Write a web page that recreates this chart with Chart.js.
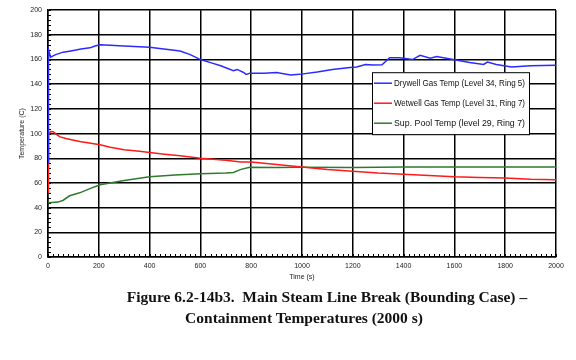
<!DOCTYPE html>
<html>
<head>
<meta charset="utf-8">
<script src="https://cdn.jsdelivr.net/npm/chart.js@4.4.0/dist/chart.umd.min.js"></script>
<style>
  body { margin: 0; background: #fff; width: 576px; height: 360px; position: relative; overflow: hidden; }
  #chart { position: absolute; left: 0; top: 0; }
  .cap { position: absolute; width: 500px; text-align: center; font-family: "Liberation Serif", "Times New Roman", serif; font-weight: bold; font-size: 15.5px; color: #111; white-space: nowrap; }
</style>
</head>
<body>
<canvas id="chart" width="576" height="290"></canvas>
<div class="cap" id="cap1" style="left:77px; top:288px;">Figure 6.2-14b3.&nbsp; Main Steam Line Break (Bounding Case) –</div>
<div class="cap" id="cap2" style="left:54px; top:309px;">Containment Temperatures (2000 s)</div>
<script>
// series labels
const seriesNames = [
  "Drywell Gas Temp (Level 34, Ring 5)",
  "Wetwell Gas Temp (Level 31, Ring 7)",
  "Sup. Pool Temp (level 29, Ring 7)"
];

// drywell gas (blue)
const drywellTime = [0, 1, 3, 10, 30, 60, 90, 130, 165, 185, 205, 245, 300, 400, 480, 520, 560, 600, 640, 680, 730, 745, 770, 780, 795, 850, 900, 955, 990, 1060, 1120, 1190, 1215, 1250, 1280, 1315, 1345, 1385, 1435, 1465, 1505, 1530, 1595, 1660, 1715, 1730, 1765, 1825, 1900, 2000];
const drywellTemp = [76, 150, 168, 162, 164, 166, 167, 168.5, 169.5, 171, 172, 171.5, 171, 170, 168, 167, 164, 160, 157.5, 155, 151, 152, 149.5, 148, 149, 149, 149.5, 147.5, 148, 150, 152, 153.5, 154, 156, 155.5, 155.7, 161.5, 161.5, 160, 163.5, 161, 162.4, 160, 157.6, 156, 158, 156, 154, 155, 155.4];

// wetwell gas (red)
const wetwellTime = [0, 2, 10, 20, 30, 45, 70, 125, 205, 245, 300, 360, 450, 520, 600, 700, 760, 800, 850, 900, 1000, 1100, 1200, 1300, 1400, 1500, 1600, 1700, 1800, 1900, 2000];
const wetwellTemp = [52, 99, 101.6, 101.5, 100, 97.5, 96, 93.6, 91, 89, 87, 85.6, 83.5, 82, 80, 78.5, 77, 77, 76, 75, 73, 71, 69.5, 68, 67, 66, 65, 64.5, 64, 63, 62.5];

// suppression pool (green)
const poolTime = [0, 40, 60, 85, 125, 160, 205, 300, 400, 500, 600, 700, 730, 760, 790, 800, 900, 1000, 1200, 1400, 1600, 1800, 2000];
const poolTemp = [44, 44.5, 46, 49.6, 52, 55, 58.5, 62, 65, 66.5, 67.5, 68, 68.5, 71, 72.5, 72.8, 72.5, 72.8, 72.5, 73, 73, 73, 73];

const lineColors = ["#2b2bff", "#ff1a1a", "#2f7a2f"];

function toPoints(times, temps) {
  return times.map((t, i) => ({ x: t, y: temps[i] }));
}

// little inward tick marks along both axes
const minorTicks = {
  id: "minorTicks",
  beforeDatasetsDraw(chart) {
    const { ctx, chartArea, scales } = chart;
    ctx.save();
    ctx.strokeStyle = "#000";
    ctx.lineWidth = 1;
    ctx.beginPath();
    for (let v = 0; v <= 2000; v += 20) {
      const px = Math.round(scales.x.getPixelForValue(v)) + 0.5;
      ctx.moveTo(px, chartArea.bottom);
      ctx.lineTo(px, chartArea.bottom - 3);
    }
    for (let v = 0; v <= 200; v += 4) {
      const py = Math.round(scales.y.getPixelForValue(v)) + 0.5;
      ctx.moveTo(chartArea.left, py);
      ctx.lineTo(chartArea.left + 3, py);
    }
    ctx.stroke();
    ctx.restore();
  }
};

// legend box sitting inside the plot
const boxLegend = {
  id: "boxLegend",
  afterDatasetsDraw(chart) {
    const { ctx, chartArea } = chart;
    const x = chartArea.left + 324, y = chartArea.top + 62, w = 157, h = 62;
    ctx.save();
    ctx.fillStyle = "#fff";
    ctx.fillRect(x, y, w, h);
    ctx.strokeStyle = "#000";
    ctx.lineWidth = 1;
    ctx.strokeRect(x + 0.5, y + 0.5, w, h);
    ctx.font = "9px 'Liberation Sans', Arial, sans-serif";
    ctx.textBaseline = "middle";
    chart.data.datasets.forEach((ds, i) => {
      const ly = y + 11 + i * 20;
      ctx.strokeStyle = ds.borderColor;
      ctx.lineWidth = 1.5;
      ctx.beginPath();
      ctx.moveTo(x + 2, ly);
      ctx.lineTo(x + 20, ly);
      ctx.stroke();
      ctx.fillStyle = "#111";
      ctx.fillText(ds.label, x + 22, ly, 131);
    });
    ctx.restore();
  }
};

const tickFont = { family: "'Liberation Sans', Arial", size: 7 };

new Chart(document.getElementById("chart"), {
  type: "line",
  data: {
    datasets: [
      { label: seriesNames[0], data: toPoints(drywellTime, drywellTemp), borderColor: lineColors[0] },
      { label: seriesNames[1], data: toPoints(wetwellTime, wetwellTemp), borderColor: lineColors[1] },
      { label: seriesNames[2], data: toPoints(poolTime, poolTemp), borderColor: lineColors[2] }
    ]
  },
  options: {
    responsive: false,
    animation: false,
    devicePixelRatio: 1,
    layout: { padding: { left: 14, right: 20, top: 7, bottom: 0 } },
    elements: {
      point: { radius: 0 },
      line: { borderWidth: 1.5, tension: 0 }
    },
    plugins: {
      legend: { display: false },
      tooltip: { enabled: false }
    },
    scales: {
      x: {
        type: "linear",
        min: 0,
        max: 2000,
        afterFit: (s) => { s.height = 33; },
        ticks: { stepSize: 200, padding: 5, color: "#222", font: tickFont, callback: (v) => String(v) },
        grid: { color: "#000", lineWidth: 1.5, drawTicks: false },
        border: { color: "#000", width: 1.5 },
        title: { display: true, text: "Time (s)", color: "#222", font: tickFont, padding: { top: 2, bottom: 9 } }
      },
      y: {
        min: 0,
        max: 200,
        afterFit: (s) => { s.width = 34; },
        ticks: { stepSize: 20, padding: 6, color: "#222", font: tickFont, callback: (v) => String(v) },
        grid: { color: "#000", lineWidth: 1.5, drawTicks: false },
        border: { color: "#000", width: 1.5 },
        title: { display: true, text: "Temperature (C)", color: "#222", font: tickFont, padding: { top: 4, bottom: 4 } }
      }
    }
  },
  plugins: [minorTicks, boxLegend]
});
</script>
</body>
</html>
